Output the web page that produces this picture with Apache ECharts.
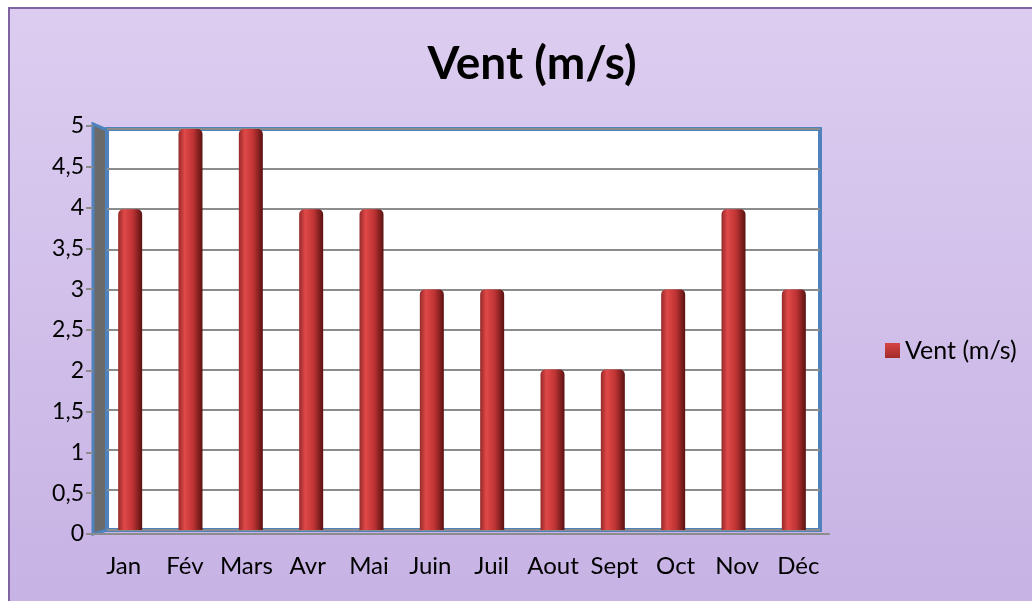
<!DOCTYPE html>
<html>
<head>
    <meta charset="utf-8" />
    <title>Vent (m/s)</title>
    <script type="text/javascript" src="https://cdn.jsdelivr.net/npm/echarts@6/dist/echarts.min.js"></script>
    <style>
        html, body { margin: 0; padding: 0; background: #fff; }
        #container { width: 1032px; height: 601px; }
    </style>
</head>
<body>
<div id="container"></div>
<script type="text/javascript">
    // donnees
    var months = ['Jan', 'Fév', 'Mars', 'Avr', 'Mai', 'Juin', 'Juil', 'Aout', 'Sept', 'Oct', 'Nov', 'Déc'];
    var vent = [4, 5, 5, 4, 4, 3, 3, 2, 2, 3, 4, 3];
    var yMin = 0, yMax = 5, yStep = 0.5;
    var seriesName = 'Vent (m/s)';

    var font = 'Lato, "Open Sans", sans-serif';
    var dom = document.getElementById('container');
    var myChart = echarts.init(dom);

    function fr(v) {
        return String(v).replace('.', ',');
    }

    var barColor = new echarts.graphic.LinearGradient(0, 0, 1, 0, [
        { offset: 0, color: '#962a2a' },
        { offset: 0.25, color: '#e04848' },
        { offset: 0.6, color: '#c03434' },
        { offset: 1, color: '#5a1212' }
    ]);
    var legendColor = new echarts.graphic.LinearGradient(0, 0, 0, 1, [
        { offset: 0, color: '#d64545' },
        { offset: 1, color: '#a42a2a' }
    ]);

    var option = {
        backgroundColor: '#fff',
        textStyle: { fontFamily: font },
        graphic: [
            {   // fond du graphique
                type: 'rect', z: -10, silent: true,
                shape: { x: 9, y: 8, width: 1040, height: 610 },
                style: {
                    fill: new echarts.graphic.LinearGradient(0, 0, 0, 1, [
                        { offset: 0, color: '#dccdf0' },
                        { offset: 1, color: '#c6b2e4' }
                    ]),
                    stroke: '#8064a2', lineWidth: 2
                }
            },
            {   // paroi laterale
                type: 'polygon', z: -1, silent: true,
                shape: { points: [[93, 124], [107, 130], [107, 530], [93, 534]] },
                style: { fill: '#6a6a6a', stroke: '#4f81bd', lineWidth: 3 }
            }
        ],
        title: {
            text: 'Vent (m/s)',
            left: 527,
            top: 36,
            textAlign: 'center',
            textStyle: { fontFamily: font, fontSize: 46, fontWeight: 'bold', color: '#000' }
        },
        legend: {
            data: [{ name: seriesName, itemStyle: { color: legendColor } }],
            icon: 'rect',
            left: 880,
            top: 333,
            itemWidth: 15,
            itemHeight: 15,
            itemGap: 7,
            textStyle: { fontFamily: font, fontSize: 25, color: '#000' }
        },
        grid: [
            {   // paroi du fond
                left: 107, right: 212, top: 129, bottom: 71,
                show: true, backgroundColor: '#fff', borderColor: '#4f81bd', borderWidth: 4
            },
            {   // barres
                left: 100, right: 208, top: 129, bottom: 71
            },
            {   // axes avant
                left: 93, right: 203, top: 126, bottom: 67
            }
        ],
        xAxis: [
            { gridIndex: 0, type: 'category', data: months, show: false },
            { gridIndex: 1, type: 'category', data: months, show: false },
            {
                gridIndex: 2, type: 'category', data: months,
                axisLine: { lineStyle: { color: '#8c8c8c', width: 2 } },
                axisTick: { length: 8, lineStyle: { color: '#8c8c8c', width: 2 } },
                axisLabel: { interval: 0, margin: 20, fontSize: 24, color: '#000', fontFamily: font }
            }
        ],
        yAxis: [
            {
                gridIndex: 0, type: 'value', min: yMin, max: yMax, interval: yStep,
                axisLine: { show: false }, axisTick: { show: false }, axisLabel: { show: false },
                splitLine: { lineStyle: { color: '#8c8c8c', width: 2 } }
            },
            {
                gridIndex: 1, type: 'value', min: yMin, max: yMax, interval: yStep,
                show: false, splitLine: { show: false }
            },
            {
                gridIndex: 2, type: 'value', min: yMin, max: yMax, interval: yStep,
                axisLine: { show: false },
                axisTick: { show: true, length: 7, lineStyle: { color: '#8c8c8c', width: 2 } },
                splitLine: { show: false },
                axisLabel: {
                    margin: 9, fontSize: 23, color: '#000', fontFamily: font,
                    formatter: function (v) { return fr(v); }
                }
            }
        ],
        series: [
            {
                name: seriesName,
                type: 'bar',
                xAxisIndex: 1,
                yAxisIndex: 1,
                data: vent,
                barWidth: 24,
                itemStyle: { color: barColor, borderRadius: [5, 5, 0, 0] }
            }
        ]
    };

    myChart.setOption(option, true);
</script>
</body>
</html>
